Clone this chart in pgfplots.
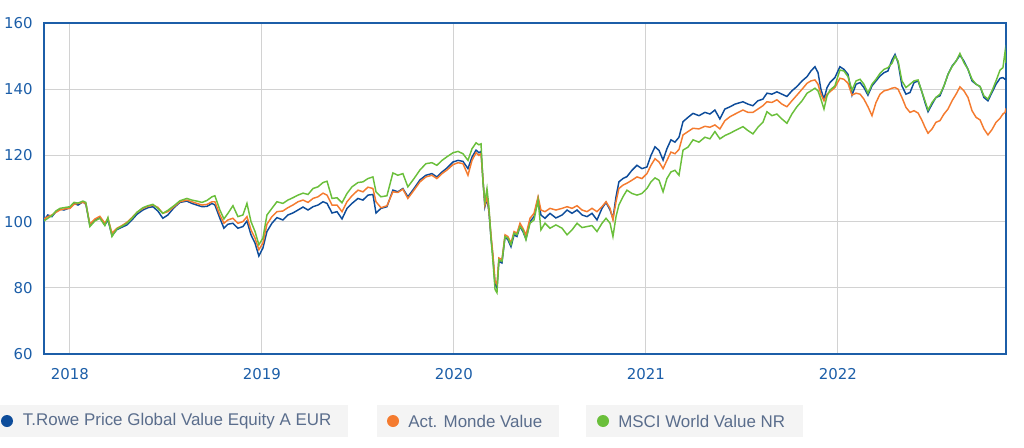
\documentclass[border=0pt]{standalone}
\usepackage{pgfplots}
\pgfplotsset{compat=1.18}
\usepackage{pgfplotstable}
\usepackage{fontspec}
\setmainfont{DejaVu Sans}
\newfontfamily\legfont{Liberation Sans}
\definecolor{cblue}{HTML}{0D4C9A}
\definecolor{corange}{HTML}{F47B2F}
\definecolor{cgreen}{HTML}{6ABF3B}
\definecolor{ctick}{HTML}{1C5EA8}
\definecolor{cgrid}{HTML}{D2D2D2}
\definecolor{cleg}{HTML}{5A6D8C}
\definecolor{clegbg}{HTML}{F4F4F4}
\pgfplotstableread{
t b o g
2017.865 100.5 100.8 100.2
2017.885 102.0 101.5 101.0
2017.906 101.5 102.0 101.8
2017.927 103.0 102.8 103.2
2017.948 103.8 103.5 104.0
2017.969 103.5 103.8 104.2
2018.000 104.2 104.0 104.5
2018.021 105.5 105.2 105.8
2018.042 105.0 105.5 105.6
2018.068 106.0 105.8 106.2
2018.083 105.2 105.5 105.8
2018.104 98.8 99.2 98.5
2018.130 100.4 100.8 100.2
2018.156 101.2 101.6 101.0
2018.182 99.0 99.5 98.8
2018.198 100.5 101.0 101.2
2018.219 95.8 96.5 95.5
2018.245 97.6 98.0 97.8
2018.271 98.3 98.8 98.6
2018.297 99.0 99.8 99.5
2018.323 100.5 101.2 101.0
2018.349 102.2 102.8 102.8
2018.380 103.5 104.0 104.2
2018.406 104.2 104.6 104.8
2018.432 104.5 105.0 105.2
2018.458 103.2 104.3 104.0
2018.484 101.0 102.5 102.5
2018.510 102.0 103.0 103.4
2018.542 104.2 104.5 104.8
2018.573 105.8 106.0 106.3
2018.609 106.2 106.5 107.0
2018.635 105.5 106.0 106.5
2018.661 105.0 105.5 106.2
2018.688 104.5 105.0 105.8
2018.714 104.6 105.2 106.4
2018.740 105.5 106.0 107.5
2018.755 105.0 106.0 107.8
2018.781 101.0 102.0 103.5
2018.802 98.0 99.5 100.8
2018.823 99.2 100.5 102.5
2018.849 99.5 101.0 104.8
2018.875 98.0 99.5 101.5
2018.901 98.5 100.0 102.0
2018.922 100.2 101.5 105.5
2018.943 96.0 97.5 100.0
2018.964 93.5 95.0 97.0
2018.984 89.6 91.5 93.0
2019.005 92.0 93.5 95.0
2019.026 97.0 99.2 102.0
2019.052 99.5 101.5 104.0
2019.078 101.2 103.0 106.0
2019.109 100.5 103.2 105.5
2019.135 102.0 104.2 106.5
2019.161 102.6 105.0 107.2
2019.188 103.5 106.0 108.0
2019.214 104.4 106.5 108.6
2019.240 103.5 105.8 108.2
2019.266 104.5 107.0 110.0
2019.292 105.0 107.5 110.5
2019.318 106.0 108.6 111.8
2019.339 105.5 108.0 112.2
2019.365 102.6 105.0 107.0
2019.391 103.0 105.0 107.2
2019.417 100.8 103.0 105.7
2019.443 104.0 106.0 108.5
2019.469 105.5 107.8 110.5
2019.500 107.0 109.5 111.8
2019.526 106.5 109.0 112.0
2019.552 108.0 110.4 113.0
2019.578 108.2 110.0 113.5
2019.594 102.6 106.0 109.0
2019.620 104.0 104.2 107.5
2019.651 104.5 104.8 107.8
2019.682 109.5 109.0 114.7
2019.708 109.0 108.8 114.0
2019.734 110.0 109.8 114.5
2019.760 107.5 107.0 110.5
2019.792 110.0 109.5 113.0
2019.823 112.6 112.0 115.6
2019.854 114.0 113.5 117.5
2019.885 114.5 114.0 117.8
2019.911 113.5 113.0 117.0
2019.938 115.0 114.5 118.5
2019.964 116.2 115.6 119.6
2019.995 118.0 117.2 120.8
2020.021 118.5 117.8 121.2
2020.047 118.2 117.5 120.5
2020.073 116.0 114.0 118.5
2020.094 119.5 118.5 122.0
2020.115 121.6 120.8 123.8
2020.130 120.8 120.0 123.2
2020.141 121.2 120.5 123.5
2020.151 112.6 112.8 112.0
2020.161 104.5 105.0 106.0
2020.172 107.0 107.5 110.0
2020.182 103.0 103.5 104.5
2020.193 95.0 96.0 95.0
2020.203 89.4 90.0 88.0
2020.214 81.0 82.0 79.5
2020.224 80.0 81.0 78.5
2020.234 88.0 89.0 88.5
2020.250 87.5 88.5 88.0
2020.266 95.4 96.0 95.5
2020.281 94.5 95.5 95.0
2020.297 92.4 93.5 93.0
2020.313 96.0 97.0 96.5
2020.328 95.5 96.5 96.0
2020.344 98.5 99.5 98.5
2020.359 97.0 98.0 97.5
2020.375 94.8 96.0 94.5
2020.396 100.0 101.0 99.5
2020.417 101.5 102.5 100.5
2020.438 107.0 107.5 106.5
2020.453 102.0 103.5 97.5
2020.474 101.0 103.0 99.5
2020.500 102.5 104.0 98.0
2020.531 101.1 103.5 99.0
2020.563 102.0 104.0 98.0
2020.589 103.5 104.5 96.0
2020.615 102.5 104.0 97.5
2020.641 103.5 104.8 99.5
2020.667 102.0 103.5 98.2
2020.693 101.5 103.0 98.5
2020.719 102.5 104.0 98.8
2020.745 100.5 103.0 97.0
2020.771 104.0 104.5 99.5
2020.792 105.8 106.0 101.0
2020.813 103.5 104.0 99.5
2020.828 101.0 100.5 95.5
2020.844 107.5 106.0 101.5
2020.859 112.0 110.0 105.0
2020.880 113.0 111.0 107.5
2020.901 113.6 111.6 109.5
2020.927 115.5 112.5 108.5
2020.953 117.0 113.5 108.0
2020.979 116.0 113.0 108.5
2021.005 116.5 114.5 110.0
2021.026 120.0 117.0 112.0
2021.047 122.6 119.0 113.2
2021.068 121.5 118.0 112.5
2021.089 118.6 116.0 109.0
2021.109 122.0 118.5 113.0
2021.130 124.7 121.0 115.0
2021.151 124.0 120.5 115.5
2021.172 125.5 121.8 114.0
2021.193 130.2 126.2 121.6
2021.219 131.5 127.2 122.5
2021.245 132.7 128.2 124.7
2021.276 132.0 128.0 124.0
2021.307 133.0 128.8 125.5
2021.333 132.5 128.5 125.0
2021.359 133.7 129.2 127.2
2021.385 131.0 128.0 125.0
2021.411 134.0 130.5 126.0
2021.438 134.7 131.7 126.7
2021.464 135.5 132.5 127.5
2021.505 136.2 133.7 128.7
2021.531 135.5 133.0 127.5
2021.557 135.0 133.0 126.5
2021.583 136.5 134.0 128.5
2021.609 137.0 135.0 130.0
2021.630 138.8 136.2 133.2
2021.656 138.5 136.0 132.0
2021.682 139.2 136.8 132.5
2021.708 138.5 135.5 131.0
2021.734 137.8 134.7 129.7
2021.760 139.5 136.5 132.5
2021.786 140.8 138.2 134.7
2021.813 142.5 140.0 136.5
2021.839 143.8 141.8 138.8
2021.859 145.5 142.5 139.5
2021.880 146.8 142.8 140.3
2021.896 145.0 141.5 139.5
2021.911 140.0 138.5 137.0
2021.927 137.0 136.5 134.0
2021.943 140.5 138.5 138.0
2021.958 142.0 139.2 139.7
2021.984 143.5 140.5 141.0
2022.010 146.8 143.3 145.8
2022.031 146.0 143.0 145.5
2022.052 144.5 141.8 143.8
2022.073 138.2 138.2 139.7
2022.094 141.5 138.8 142.5
2022.115 142.0 138.5 143.0
2022.135 140.5 137.0 141.5
2022.156 138.2 134.7 138.8
2022.177 141.0 132.0 141.5
2022.198 142.5 136.0 143.0
2022.219 144.0 138.5 144.8
2022.240 145.0 139.5 146.0
2022.260 145.5 139.8 146.5
2022.281 148.8 140.3 147.8
2022.297 150.5 140.5 150.0
2022.313 148.0 140.0 148.5
2022.333 141.0 137.5 142.5
2022.354 138.5 134.5 140.5
2022.375 139.0 133.0 141.5
2022.396 142.0 133.5 142.5
2022.417 142.5 132.8 142.8
2022.438 139.0 130.5 139.0
2022.453 136.0 128.5 136.5
2022.469 133.2 126.7 133.7
2022.490 135.5 128.0 136.0
2022.510 137.5 130.0 137.5
2022.531 138.0 130.5 138.5
2022.552 141.0 132.5 141.0
2022.573 144.5 134.0 144.5
2022.594 147.0 136.5 146.8
2022.615 148.5 138.5 148.5
2022.635 150.3 140.7 150.8
2022.656 148.5 139.5 148.0
2022.677 146.0 137.5 146.0
2022.698 142.5 133.5 143.0
2022.719 141.5 131.5 141.5
2022.740 140.8 130.7 140.8
2022.760 137.5 128.0 138.0
2022.781 136.5 126.2 137.0
2022.802 139.0 127.8 139.5
2022.823 141.5 130.0 142.5
2022.844 143.3 131.2 145.8
2022.859 143.5 132.5 146.5
2022.870 143.0 133.0 151.3
2022.875 143.3 134.2 147.9
}\perf
\begin{document}
\begin{tikzpicture}
\useasboundingbox (0,0) rectangle (768pt,335.25pt);
\begin{axis}[
  at={(33pt,69.75pt)}, anchor=south west,
  scale only axis, width=721.5pt, height=248.25pt,
  xmin=2017.865, xmax=2022.875, ymin=60, ymax=160,
  xtick={2018,2019,2020,2021,2022},
  xticklabels={2018,2019,2020,2021,2022},
  ytick={60,80,100,120,140,160},
  major tick length=0pt,
  grid=major,
  major grid style={cgrid, line width=0.75pt},
  axis line style={ctick, line width=1.1pt},
  tick label style={font=\fontsize{11.2}{12}\selectfont, text=ctick},
  /pgf/number format/assume math mode=true,
  xticklabel style={inner sep=0pt, anchor=north, yshift=-10.5pt},
  yticklabel style={inner sep=0pt, anchor=east, xshift=-8.25pt},
  clip=true,
]
\addplot[cblue, line width=1.1pt] table[x=t, y=b] {\perf};
\addplot[corange, line width=1.1pt] table[x=t, y=o] {\perf};
\addplot[cgreen, line width=1.1pt] table[x=t, y=g] {\perf};
\end{axis}
\fill[clegbg] (0pt,7.5pt) rectangle (261pt,31.5pt);
\fill[clegbg] (282.75pt,7.5pt) rectangle (419.25pt,31.5pt);
\fill[clegbg] (439.5pt,7.5pt) rectangle (602.25pt,31.5pt);
\fill[cblue] (5.25pt,19.5pt) circle (4.5pt);
\fill[corange] (294.75pt,19.5pt) circle (4.5pt);
\fill[cgreen] (452.25pt,19.5pt) circle (4.5pt);
\node[anchor=west, inner sep=0pt, text=cleg, font=\legfont\fontsize{12.7}{14}\selectfont] at (17pt,19.5pt) {T.Rowe Price Global Value Equity A EUR};
\node[anchor=west, inner sep=0pt, text=cleg, font=\legfont\fontsize{12.7}{14}\selectfont] at (306pt,19.5pt) {Act. Monde Value};
\node[anchor=west, inner sep=0pt, text=cleg, font=\legfont\fontsize{12.7}{14}\selectfont] at (463.5pt,19.5pt) {MSCI World Value NR};
\end{tikzpicture}
\end{document}
